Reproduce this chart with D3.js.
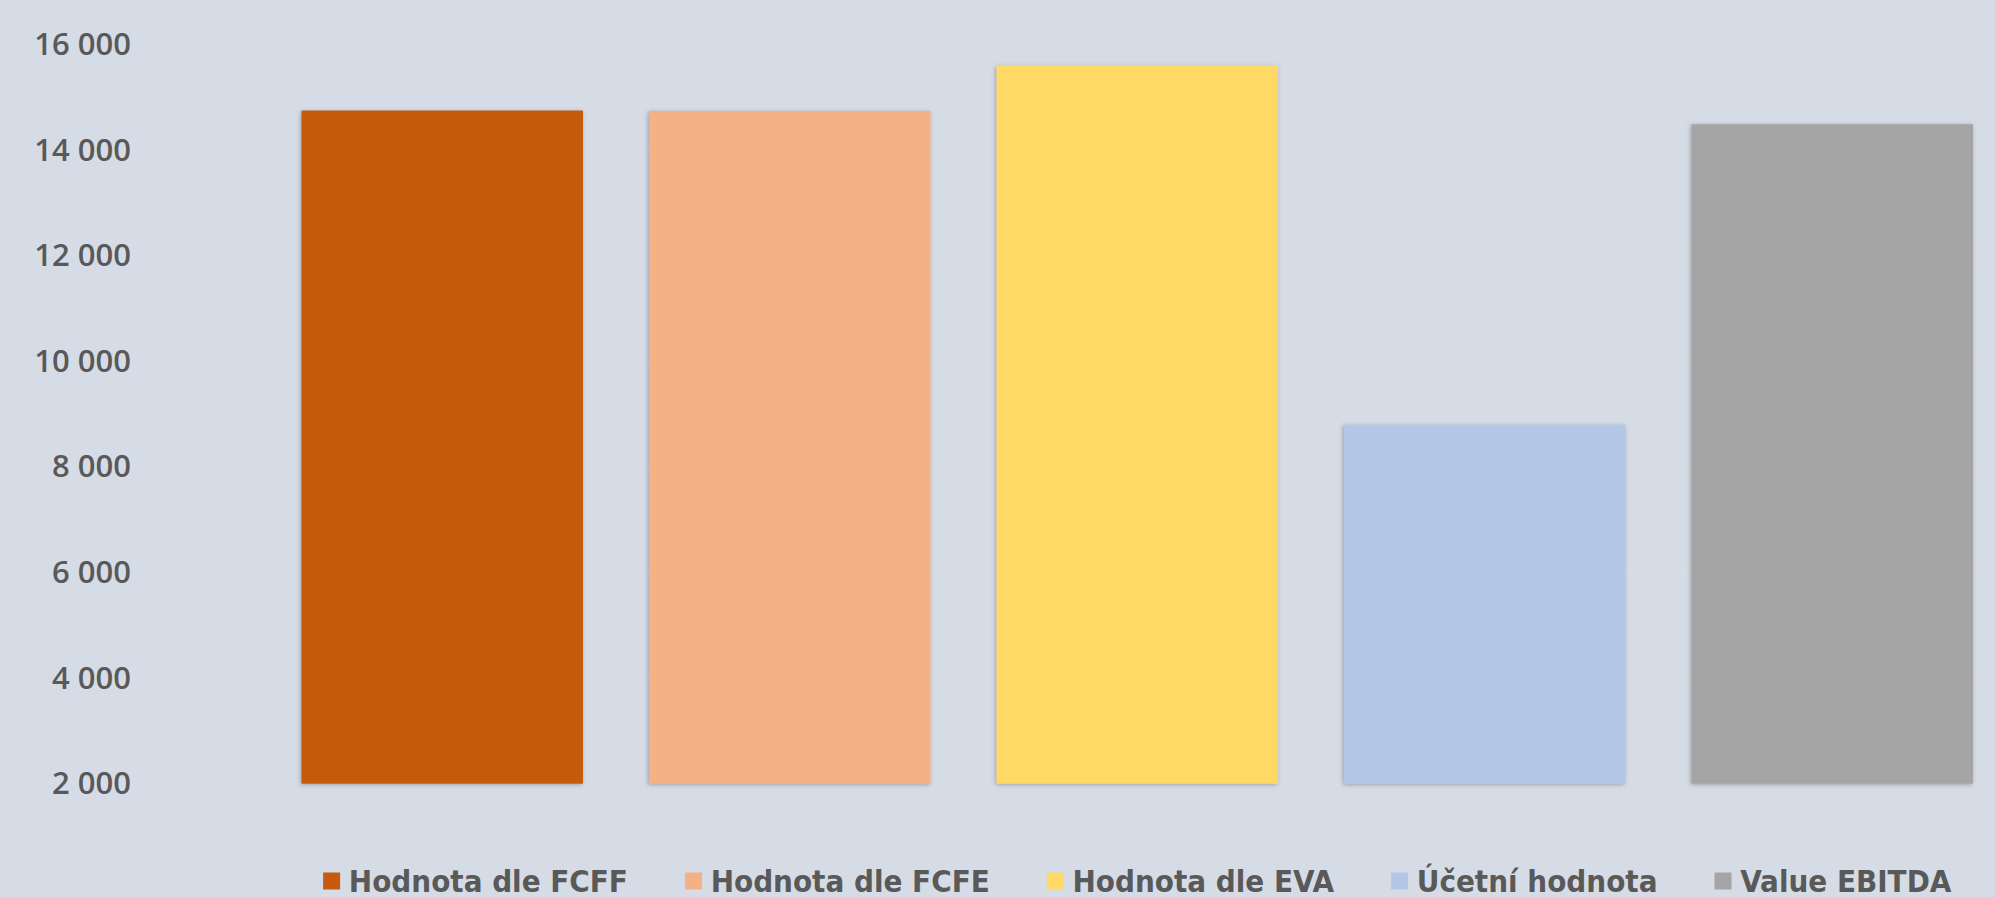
<!DOCTYPE html>
<html>
<head>
<meta charset="utf-8">
<script src="https://cdn.jsdelivr.net/npm/d3@7"></script>
<style>
    html, body { margin: 0; padding: 0; background: #D6DCE5; }
    svg { display: block; }
</style>
</head>
<body>
<div id="chart"></div>
<script>
document.addEventListener("DOMContentLoaded", function () {

    // data
    const categories = ["Hodnota dle FCFF", "Hodnota dle FCFE", "Hodnota dle EVA", "Účetní hodnota", "Value EBITDA"];
    const values = [14750, 14740, 15600, 8800, 14490];
    const colors = ["#C55A11", "#F4B183", "#FFD966", "#B4C7E7", "#A5A5A5"];
    const yTicks = [2000, 4000, 6000, 8000, 10000, 12000, 14000, 16000];

    const width = 1995, height = 897;
    const gridLeft = 160;

    const locale = d3.formatLocale({decimal: ",", thousands: " ", grouping: [3], currency: ["", ""]});
    const fmt = locale.format(",d");

    let svg = d3.select("#chart")
        .append("svg")
        .attr("width", width)
        .attr("height", height);

    svg.append("rect")
        .attr("width", width)
        .attr("height", height)
        .attr("fill", "#D6DCE5");

    let defs = svg.append("defs");
    let shadow = defs.append("filter")
        .attr("id", "shadow")
        .attr("x", "-10%").attr("y", "-10%")
        .attr("width", "120%").attr("height", "120%");
    shadow.append("feDropShadow")
        .attr("dx", -1)
        .attr("dy", 1)
        .attr("stdDeviation", 2)
        .attr("flood-color", "#4a5260")
        .attr("flood-opacity", 0.45);

    let y = d3.scaleLinear()
        .domain([2000, 16000])
        .range([783.7, 44.5]);

    let x = d3.scaleBand()
        .domain(categories)
        .range([268.5, 2006])
        .paddingInner(0.19)
        .paddingOuter(0.095);

    // gridlines
    svg.append("g")
        .selectAll("line")
        .data(yTicks)
        .join("line")
        .attr("x1", gridLeft)
        .attr("x2", width)
        .attr("y1", d => y(d))
        .attr("y2", d => y(d))
        .attr("stroke", "#DCDCDC")
        .attr("stroke-width", 2);

    // y axis labels
    let yAxis = d3.axisLeft(y)
        .tickValues(yTicks)
        .tickFormat(fmt)
        .tickSize(0)
        .tickPadding(0);

    let ya = svg.append("g")
        .attr("transform", "translate(131,0)")
        .call(yAxis);
    ya.select(".domain").remove();
    ya.selectAll("text")
        .attr("fill", "#595959")
        .attr("font-family", "'Open Sans', 'Noto Sans', sans-serif")
        .attr("font-size", 31)
        .attr("font-weight", 600);

    // bars
    svg.append("g")
        .selectAll("rect")
        .data(categories)
        .join("rect")
        .attr("x", d => x(d))
        .attr("width", x.bandwidth())
        .attr("y", (d, i) => y(values[i]))
        .attr("height", (d, i) => y(2000) - y(values[i]))
        .attr("fill", (d, i) => colors[i])
        .attr("filter", "url(#shadow)");

    // legend
    const sw = 17, swGap = 8.7, itemGap = 57, legendY = 881;
    let legend = svg.append("g");
    let items = legend.selectAll("g")
        .data(categories)
        .join("g");
    items.append("rect")
        .attr("width", sw)
        .attr("height", sw)
        .attr("y", legendY - sw / 2)
        .attr("fill", (d, i) => colors[i]);
    items.append("text")
        .attr("x", sw + swGap)
        .attr("y", legendY)
        .attr("dy", "0.36em")
        .attr("fill", "#595959")
        .attr("font-family", "'DejaVu Sans Condensed', 'DejaVu Sans', sans-serif")
        .attr("font-stretch", "condensed")
        .attr("font-weight", "bold")
        .attr("font-size", 31)
        .text(d => d);

    let pos = 0;
    items.each(function () {
        let g = d3.select(this);
        g.attr("transform", "translate(" + pos + ",0)");
        pos += sw + swGap + g.select("text").node().getComputedTextLength() + itemGap;
    });
    pos -= itemGap;
    let center = (x(categories[0]) + x(categories[4]) + x.bandwidth()) / 2;
    legend.attr("transform", "translate(" + (center - pos / 2) + ",0)");

});
</script>
</body>
</html>
